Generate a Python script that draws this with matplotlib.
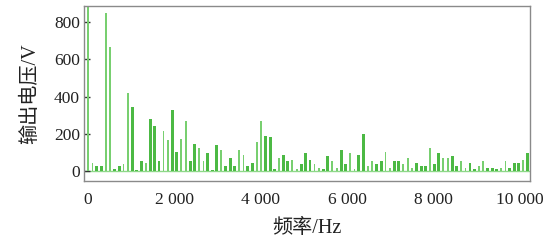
import numpy as np
import matplotlib
matplotlib.use('Agg')
import matplotlib.pyplot as plt
from matplotlib.ticker import FuncFormatter

plt.rcParams['font.family'] = ['Liberation Serif', 'Noto Sans CJK SC']

# harmonic lines, one every ~103 Hz
freq = np.arange(100) * 102.8
volt = [900, 41, 27, 27, 847, 668, 9, 27, 36, 421,
        344, 3, 52, 43, 277, 242, 52, 215, 165, 328,
        104, 174, 267, 52, 147, 122, 52, 95, 3, 138,
        111, 27, 70, 27, 113, 86, 27, 43, 156, 268,
        190, 183, 11, 70, 86, 52, 61, 11, 36, 95,
        61, 36, 18, 11, 79, 52, 18, 113, 36, 95,
        9, 86, 199, 27, 52, 36, 52, 104, 18, 52,
        52, 36, 70, 18, 43, 27, 27, 122, 36, 95,
        70, 70, 79, 27, 52, 18, 43, 9, 27, 52,
        18, 18, 9, 18, 52, 18, 43, 43, 61, 95]
# 1 = wide dark bar, 0 = narrow light bar
wide = [0, 0, 1, 1, 0, 0, 1, 1, 0, 0,
        1, 1, 1, 0, 1, 1, 1, 0, 0, 1,
        1, 0, 0, 1, 1, 0, 0, 1, 1, 1,
        0, 1, 1, 1, 0, 0, 1, 1, 0, 0,
        1, 1, 1, 0, 1, 1, 0, 0, 1, 1,
        1, 0, 0, 1, 1, 0, 0, 1, 1, 0,
        0, 1, 1, 0, 0, 1, 1, 0, 0, 1,
        1, 0, 0, 0, 1, 1, 1, 0, 1, 1,
        0, 0, 1, 1, 0, 0, 1, 1, 0, 0,
        1, 1, 1, 0, 0, 1, 1, 1, 0, 1]

freq = np.asarray(freq)
volt = np.asarray(volt)
wide = np.asarray(wide, dtype=bool)

fig = plt.figure(figsize=(5.58, 2.42), dpi=100)
ax = fig.add_axes([0.1505, 0.252, 0.7993, 0.723])

ax.axhline(0, color='#8fd88a', lw=1.0, zorder=1)
ax.bar(freq[~wide], volt[~wide], width=38, color='#78cf70', zorder=2)
ax.bar(freq[wide], volt[wide], width=66, color='#4cb944', zorder=3)

ax.set_xlim(-93, 10231)
ax.set_ylim(-54, 887)
ax.set_xticks([0, 2000, 4000, 6000, 8000, 10000])
ax.set_yticks([0, 200, 400, 600, 800])
ax.xaxis.set_major_formatter(FuncFormatter(lambda v, p: f'{int(v):,}'.replace(',', ' ')))

for s in ax.spines.values():
    s.set_color('#8a8a8a')
    s.set_linewidth(1.0)
ax.tick_params(axis='y', direction='in', length=4, width=1, color='#333333',
               labelsize=12.5, pad=3)
ax.tick_params(axis='x', length=0, labelsize=12.5, pad=8)
for lab in ax.get_xticklabels() + ax.get_yticklabels():
    lab.set_color('#222222')

ax.set_ylabel('输出电压/V', fontsize=14.5, color='#222222', labelpad=10,
              fontweight='light')
ax.set_xlabel('频率/Hz', fontsize=14.5, color='#222222', labelpad=8,
              fontweight='light')

fig.savefig('out.png', dpi=100)
